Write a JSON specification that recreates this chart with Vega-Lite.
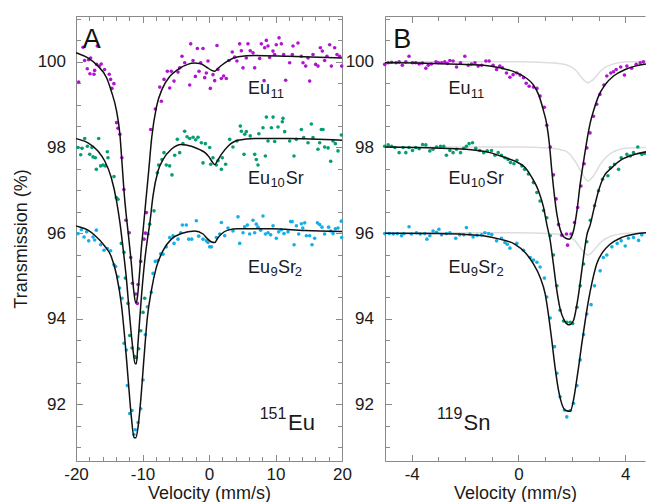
{
  "$schema": "https://vega.github.io/schema/vega-lite/v6.json",
  "padding": {"left": 12, "top": 15, "right": 0, "bottom": 0},
  "background": "white",
  "spacing": 43,
  "bounds": "flush",
  "config": {
    "font": "Liberation Sans",
    "view": {"stroke": null},
    "axis": {"grid": false, "domainColor": "#8a8a8a", "tickColor": "#8a8a8a", "domainWidth": 1, "tickWidth": 1, "labelColor": "#1a1a1a", "titleColor": "#1a1a1a", "labelFontSize": 17, "titleFontSize": 18, "titleFontWeight": "normal", "labelFont": "Liberation Sans", "titleFont": "Liberation Sans"}
  },
  "datasets": {
    "ptsA": [
      {"s":"Eu11","x":-19.6,"y":99.53},{"s":"Eu11","x":-18.94,"y":100.34},{"s":"Eu11","x":-18.7,"y":100.03},{"s":"Eu11","x":-18.3,"y":99.84},{"s":"Eu11","x":-18.1,"y":100.05},{"s":"Eu11","x":-17.9,"y":99.72},{"s":"Eu11","x":-17.8,"y":100.09},{"s":"Eu11","x":-17.3,"y":99.71},{"s":"Eu11","x":-17.2,"y":99.8},{"s":"Eu11","x":-16.8,"y":100.37},{"s":"Eu11","x":-16.9,"y":99.94},{"s":"Eu11","x":-16.5,"y":99.9},{"s":"Eu11","x":-16.2,"y":99.95},{"s":"Eu11","x":-15.7,"y":99.82},{"s":"Eu11","x":-15.0,"y":99.71},{"s":"Eu11","x":-14.8,"y":99.59},{"s":"Eu11","x":-14.6,"y":99.38},{"s":"Eu11","x":-14.3,"y":99.49},{"s":"Eu11","x":-13.9,"y":98.58},{"s":"Eu11","x":-13.7,"y":98.45},{"s":"Eu11","x":-13.4,"y":98.31},{"s":"Eu11","x":-13.1,"y":97.76},{"s":"Eu11","x":-12.8,"y":97.02},{"s":"Eu11","x":-12.5,"y":96.3},{"s":"Eu11","x":-12.0,"y":96.01},{"s":"Eu11","x":-11.77,"y":95.43},{"s":"Eu11","x":-11.52,"y":94.83},{"s":"Eu11","x":-11.02,"y":94.58},{"s":"Eu11","x":-10.77,"y":94.36},{"s":"Eu11","x":-10.67,"y":94.8},{"s":"Eu11","x":-10.27,"y":95.34},{"s":"Eu11","x":-9.77,"y":95.86},{"s":"Eu11","x":-9.56,"y":96.0},{"s":"Eu11","x":-9.41,"y":96.48},{"s":"Eu11","x":-8.77,"y":98.42},{"s":"Eu11","x":-8.07,"y":98.9},{"s":"Eu11","x":-7.4,"y":99.41},{"s":"Eu11","x":-7.16,"y":99.08},{"s":"Eu11","x":-6.76,"y":99.59},{"s":"Eu11","x":-6.26,"y":99.78},{"s":"Eu11","x":-5.91,"y":99.39},{"s":"Eu11","x":-5.66,"y":99.78},{"s":"Eu11","x":-5.26,"y":99.55},{"s":"Eu11","x":-4.66,"y":99.76},{"s":"Eu11","x":-4.4,"y":99.86},{"s":"Eu11","x":-4.06,"y":100.13},{"s":"Eu11","x":-3.65,"y":99.98},{"s":"Eu11","x":-2.9,"y":99.46},{"s":"Eu11","x":-2.75,"y":100.42},{"s":"Eu11","x":-2.4,"y":100.03},{"s":"Eu11","x":-2.05,"y":99.66},{"s":"Eu11","x":-1.75,"y":100.31},{"s":"Eu11","x":-1.5,"y":99.78},{"s":"Eu11","x":-1.25,"y":99.98},{"s":"Eu11","x":-0.9,"y":100.31},{"s":"Eu11","x":-0.65,"y":99.63},{"s":"Eu11","x":-0.4,"y":99.74},{"s":"Eu11","x":-0.15,"y":100.02},{"s":"Eu11","x":0.2,"y":99.38},{"s":"Eu11","x":0.6,"y":99.7},{"s":"Eu11","x":0.85,"y":99.56},{"s":"Eu11","x":1.2,"y":100.38},{"s":"Eu11","x":1.35,"y":99.82},{"s":"Eu11","x":1.85,"y":99.61},{"s":"Eu11","x":2.2,"y":99.67},{"s":"Eu11","x":2.6,"y":99.61},{"s":"Eu11","x":3.0,"y":100.03},{"s":"Eu11","x":3.5,"y":100.23},{"s":"Eu11","x":3.86,"y":100.11},{"s":"Eu11","x":4.2,"y":100.02},{"s":"Eu11","x":4.61,"y":100.42},{"s":"Eu11","x":4.86,"y":100.26},{"s":"Eu11","x":5.11,"y":99.86},{"s":"Eu11","x":5.61,"y":100.09},{"s":"Eu11","x":5.86,"y":100.42},{"s":"Eu11","x":6.2,"y":100.26},{"s":"Eu11","x":6.62,"y":100.21},{"s":"Eu11","x":6.87,"y":99.86},{"s":"Eu11","x":7.62,"y":100.08},{"s":"Eu11","x":7.87,"y":100.42},{"s":"Eu11","x":8.28,"y":99.56},{"s":"Eu11","x":8.37,"y":100.33},{"s":"Eu11","x":8.62,"y":100.5},{"s":"Eu11","x":8.87,"y":100.37},{"s":"Eu11","x":9.12,"y":100.1},{"s":"Eu11","x":9.62,"y":100.25},{"s":"Eu11","x":9.87,"y":100.17},{"s":"Eu11","x":10.12,"y":100.4},{"s":"Eu11","x":10.53,"y":100.56},{"s":"Eu11","x":10.88,"y":100.42},{"s":"Eu11","x":11.23,"y":100.17},{"s":"Eu11","x":11.53,"y":99.57},{"s":"Eu11","x":12.13,"y":99.98},{"s":"Eu11","x":12.53,"y":100.17},{"s":"Eu11","x":12.63,"y":100.37},{"s":"Eu11","x":13.38,"y":100.44},{"s":"Eu11","x":13.88,"y":100.13},{"s":"Eu11","x":14.14,"y":99.98},{"s":"Eu11","x":14.54,"y":99.9},{"s":"Eu11","x":14.89,"y":100.09},{"s":"Eu11","x":15.14,"y":99.55},{"s":"Eu11","x":15.64,"y":100.17},{"s":"Eu11","x":16.04,"y":99.94},{"s":"Eu11","x":16.39,"y":99.9},{"s":"Eu11","x":16.74,"y":100.33},{"s":"Eu11","x":17.04,"y":100.25},{"s":"Eu11","x":17.39,"y":100.03},{"s":"Eu11","x":17.74,"y":100.13},{"s":"Eu11","x":18.15,"y":100.4},{"s":"Eu11","x":18.4,"y":99.9},{"s":"Eu11","x":18.9,"y":100.33},{"s":"Eu11","x":19.25,"y":100.17},{"s":"Eu11","x":19.65,"y":100.13},{"s":"Eu11","x":19.95,"y":99.9},
      {"s":"Eu10Sr","x":-19.69,"y":98.0},{"s":"Eu10Sr","x":-19.29,"y":97.83},{"s":"Eu10Sr","x":-19.09,"y":97.98},{"s":"Eu10Sr","x":-18.69,"y":98.21},{"s":"Eu10Sr","x":-18.29,"y":98.03},{"s":"Eu10Sr","x":-17.94,"y":97.84},{"s":"Eu10Sr","x":-17.6,"y":98.0},{"s":"Eu10Sr","x":-17.44,"y":97.78},{"s":"Eu10Sr","x":-17.09,"y":97.76},{"s":"Eu10Sr","x":-16.94,"y":97.49},{"s":"Eu10Sr","x":-16.59,"y":98.21},{"s":"Eu10Sr","x":-16.29,"y":97.57},{"s":"Eu10Sr","x":-15.94,"y":97.59},{"s":"Eu10Sr","x":-15.59,"y":97.57},{"s":"Eu10Sr","x":-15.29,"y":97.9},{"s":"Eu10Sr","x":-15.19,"y":97.76},{"s":"Eu10Sr","x":-14.29,"y":97.32},{"s":"Eu10Sr","x":-13.94,"y":96.83},{"s":"Eu10Sr","x":-13.69,"y":96.79},{"s":"Eu10Sr","x":-13.18,"y":95.76},{"s":"Eu10Sr","x":-12.78,"y":95.55},{"s":"Eu10Sr","x":-12.58,"y":94.95},{"s":"Eu10Sr","x":-12.18,"y":94.36},{"s":"Eu10Sr","x":-11.92,"y":93.61},{"s":"Eu10Sr","x":-11.57,"y":93.32},{"s":"Eu10Sr","x":-11.17,"y":93.12},{"s":"Eu10Sr","x":-10.92,"y":93.09},{"s":"Eu10Sr","x":-10.57,"y":93.3},{"s":"Eu10Sr","x":-10.27,"y":93.72},{"s":"Eu10Sr","x":-9.92,"y":94.15},{"s":"Eu10Sr","x":-9.67,"y":94.48},{"s":"Eu10Sr","x":-9.17,"y":95.98},{"s":"Eu10Sr","x":-8.92,"y":96.21},{"s":"Eu10Sr","x":-8.27,"y":96.52},{"s":"Eu10Sr","x":-7.77,"y":97.41},{"s":"Eu10Sr","x":-7.57,"y":97.59},{"s":"Eu10Sr","x":-7.07,"y":97.72},{"s":"Eu10Sr","x":-6.77,"y":97.88},{"s":"Eu10Sr","x":-6.42,"y":97.59},{"s":"Eu10Sr","x":-5.92,"y":97.57},{"s":"Eu10Sr","x":-5.57,"y":97.36},{"s":"Eu10Sr","x":-5.16,"y":97.82},{"s":"Eu10Sr","x":-4.76,"y":98.19},{"s":"Eu10Sr","x":-4.41,"y":97.88},{"s":"Eu10Sr","x":-3.91,"y":98.09},{"s":"Eu10Sr","x":-3.66,"y":98.38},{"s":"Eu10Sr","x":-3.3,"y":98.25},{"s":"Eu10Sr","x":-2.9,"y":98.21},{"s":"Eu10Sr","x":-2.4,"y":98.24},{"s":"Eu10Sr","x":-2.0,"y":98.18},{"s":"Eu10Sr","x":-1.65,"y":98.24},{"s":"Eu10Sr","x":-1.15,"y":98.11},{"s":"Eu10Sr","x":-0.9,"y":97.64},{"s":"Eu10Sr","x":-0.55,"y":98.09},{"s":"Eu10Sr","x":0.1,"y":98.0},{"s":"Eu10Sr","x":0.26,"y":97.61},{"s":"Eu10Sr","x":0.6,"y":97.76},{"s":"Eu10Sr","x":1.1,"y":97.59},{"s":"Eu10Sr","x":1.36,"y":97.69},{"s":"Eu10Sr","x":1.86,"y":97.49},{"s":"Eu10Sr","x":2.0,"y":97.76},{"s":"Eu10Sr","x":2.5,"y":97.61},{"s":"Eu10Sr","x":3.11,"y":98.19},{"s":"Eu10Sr","x":3.6,"y":98.01},{"s":"Eu10Sr","x":4.2,"y":98.15},{"s":"Eu10Sr","x":4.71,"y":98.5},{"s":"Eu10Sr","x":4.87,"y":98.38},{"s":"Eu10Sr","x":5.27,"y":97.84},{"s":"Eu10Sr","x":5.37,"y":98.31},{"s":"Eu10Sr","x":5.61,"y":98.37},{"s":"Eu10Sr","x":6.2,"y":98.27},{"s":"Eu10Sr","x":6.87,"y":97.84},{"s":"Eu10Sr","x":7.12,"y":97.72},{"s":"Eu10Sr","x":7.37,"y":97.59},{"s":"Eu10Sr","x":7.5,"y":98.32},{"s":"Eu10Sr","x":8.12,"y":98.46},{"s":"Eu10Sr","x":8.48,"y":97.8},{"s":"Eu10Sr","x":8.63,"y":98.71},{"s":"Eu10Sr","x":8.87,"y":98.15},{"s":"Eu10Sr","x":9.38,"y":98.46},{"s":"Eu10Sr","x":9.63,"y":98.71},{"s":"Eu10Sr","x":9.88,"y":98.14},{"s":"Eu10Sr","x":10.38,"y":98.48},{"s":"Eu10Sr","x":11.03,"y":98.6},{"s":"Eu10Sr","x":11.13,"y":98.68},{"s":"Eu10Sr","x":11.38,"y":98.37},{"s":"Eu10Sr","x":12.13,"y":98.15},{"s":"Eu10Sr","x":12.78,"y":97.8},{"s":"Eu10Sr","x":13.13,"y":98.19},{"s":"Eu10Sr","x":13.89,"y":98.42},{"s":"Eu10Sr","x":14.24,"y":98.23},{"s":"Eu10Sr","x":14.89,"y":98.11},{"s":"Eu10Sr","x":15.39,"y":98.55},{"s":"Eu10Sr","x":15.64,"y":98.23},{"s":"Eu10Sr","x":16.39,"y":97.96},{"s":"Eu10Sr","x":16.64,"y":98.11},{"s":"Eu10Sr","x":16.89,"y":98.42},{"s":"Eu10Sr","x":17.14,"y":98.42},{"s":"Eu10Sr","x":17.39,"y":98.01},{"s":"Eu10Sr","x":17.9,"y":97.99},{"s":"Eu10Sr","x":18.3,"y":97.68},{"s":"Eu10Sr","x":18.65,"y":98.15},{"s":"Eu10Sr","x":19.0,"y":98.09},{"s":"Eu10Sr","x":19.4,"y":97.92},{"s":"Eu10Sr","x":19.9,"y":98.29},
      {"s":"Eu9Sr2","x":-19.69,"y":95.99},{"s":"Eu9Sr2","x":-19.2,"y":96.08},{"s":"Eu9Sr2","x":-18.79,"y":95.91},{"s":"Eu9Sr2","x":-18.4,"y":96.03},{"s":"Eu9Sr2","x":-18.09,"y":95.82},{"s":"Eu9Sr2","x":-17.44,"y":95.91},{"s":"Eu9Sr2","x":-17.19,"y":95.84},{"s":"Eu9Sr2","x":-16.94,"y":96.07},{"s":"Eu9Sr2","x":-16.29,"y":95.73},{"s":"Eu9Sr2","x":-15.79,"y":95.6},{"s":"Eu9Sr2","x":-15.29,"y":95.64},{"s":"Eu9Sr2","x":-14.79,"y":95.59},{"s":"Eu9Sr2","x":-14.29,"y":95.26},{"s":"Eu9Sr2","x":-14.04,"y":95.22},{"s":"Eu9Sr2","x":-13.69,"y":94.98},{"s":"Eu9Sr2","x":-13.44,"y":94.72},{"s":"Eu9Sr2","x":-13.08,"y":94.48},{"s":"Eu9Sr2","x":-12.78,"y":93.43},{"s":"Eu9Sr2","x":-12.43,"y":93.27},{"s":"Eu9Sr2","x":-12.28,"y":92.44},{"s":"Eu9Sr2","x":-11.93,"y":91.79},{"s":"Eu9Sr2","x":-11.58,"y":91.86},{"s":"Eu9Sr2","x":-11.28,"y":91.3},{"s":"Eu9Sr2","x":-11.08,"y":91.41},{"s":"Eu9Sr2","x":-10.67,"y":91.58},{"s":"Eu9Sr2","x":-10.27,"y":91.9},{"s":"Eu9Sr2","x":-9.92,"y":92.57},{"s":"Eu9Sr2","x":-9.57,"y":93.63},{"s":"Eu9Sr2","x":-9.27,"y":94.28},{"s":"Eu9Sr2","x":-8.67,"y":94.62},{"s":"Eu9Sr2","x":-8.42,"y":95.06},{"s":"Eu9Sr2","x":-8.07,"y":95.34},{"s":"Eu9Sr2","x":-7.67,"y":95.36},{"s":"Eu9Sr2","x":-7.27,"y":95.52},{"s":"Eu9Sr2","x":-6.92,"y":95.51},{"s":"Eu9Sr2","x":-6.42,"y":95.68},{"s":"Eu9Sr2","x":-5.91,"y":95.9},{"s":"Eu9Sr2","x":-5.41,"y":95.94},{"s":"Eu9Sr2","x":-5.26,"y":95.76},{"s":"Eu9Sr2","x":-4.66,"y":95.86},{"s":"Eu9Sr2","x":-4.26,"y":96.01},{"s":"Eu9Sr2","x":-4.0,"y":96.19},{"s":"Eu9Sr2","x":-3.41,"y":96.19},{"s":"Eu9Sr2","x":-3.05,"y":95.86},{"s":"Eu9Sr2","x":-2.6,"y":95.86},{"s":"Eu9Sr2","x":-1.9,"y":96.29},{"s":"Eu9Sr2","x":-1.55,"y":95.93},{"s":"Eu9Sr2","x":-0.9,"y":95.86},{"s":"Eu9Sr2","x":-0.4,"y":95.82},{"s":"Eu9Sr2","x":-0.15,"y":95.78},{"s":"Eu9Sr2","x":0.1,"y":95.68},{"s":"Eu9Sr2","x":0.36,"y":95.68},{"s":"Eu9Sr2","x":1.11,"y":95.9},{"s":"Eu9Sr2","x":1.61,"y":95.98},{"s":"Eu9Sr2","x":1.86,"y":96.25},{"s":"Eu9Sr2","x":2.36,"y":95.94},{"s":"Eu9Sr2","x":2.86,"y":96.12},{"s":"Eu9Sr2","x":3.61,"y":96.05},{"s":"Eu9Sr2","x":4.36,"y":96.38},{"s":"Eu9Sr2","x":4.62,"y":95.76},{"s":"Eu9Sr2","x":5.12,"y":96.01},{"s":"Eu9Sr2","x":5.37,"y":96.15},{"s":"Eu9Sr2","x":5.77,"y":96.19},{"s":"Eu9Sr2","x":6.12,"y":95.98},{"s":"Eu9Sr2","x":6.62,"y":96.3},{"s":"Eu9Sr2","x":6.87,"y":96.01},{"s":"Eu9Sr2","x":7.12,"y":96.21},{"s":"Eu9Sr2","x":7.37,"y":96.14},{"s":"Eu9Sr2","x":7.77,"y":96.07},{"s":"Eu9Sr2","x":8.12,"y":96.4},{"s":"Eu9Sr2","x":8.48,"y":95.98},{"s":"Eu9Sr2","x":8.88,"y":96.01},{"s":"Eu9Sr2","x":9.27,"y":95.96},{"s":"Eu9Sr2","x":9.63,"y":96.17},{"s":"Eu9Sr2","x":10.13,"y":95.88},{"s":"Eu9Sr2","x":10.48,"y":96.03},{"s":"Eu9Sr2","x":10.88,"y":96.08},{"s":"Eu9Sr2","x":11.28,"y":95.99},{"s":"Eu9Sr2","x":11.88,"y":96.03},{"s":"Eu9Sr2","x":12.28,"y":96.27},{"s":"Eu9Sr2","x":12.5,"y":96.27},{"s":"Eu9Sr2","x":12.79,"y":95.73},{"s":"Eu9Sr2","x":13.14,"y":96.17},{"s":"Eu9Sr2","x":13.49,"y":95.98},{"s":"Eu9Sr2","x":13.89,"y":96.22},{"s":"Eu9Sr2","x":14.1,"y":96.12},{"s":"Eu9Sr2","x":14.39,"y":96.24},{"s":"Eu9Sr2","x":14.64,"y":95.94},{"s":"Eu9Sr2","x":15.14,"y":95.94},{"s":"Eu9Sr2","x":15.49,"y":95.73},{"s":"Eu9Sr2","x":15.89,"y":95.88},{"s":"Eu9Sr2","x":16.3,"y":96.24},{"s":"Eu9Sr2","x":16.64,"y":96.2},{"s":"Eu9Sr2","x":16.99,"y":96.14},{"s":"Eu9Sr2","x":17.39,"y":95.98},{"s":"Eu9Sr2","x":17.99,"y":96.14},{"s":"Eu9Sr2","x":18.3,"y":96.05},{"s":"Eu9Sr2","x":18.65,"y":95.99},{"s":"Eu9Sr2","x":19.0,"y":96.1},{"s":"Eu9Sr2","x":19.4,"y":96.12},{"s":"Eu9Sr2","x":19.9,"y":96.28},{"s":"Eu9Sr2","x":19.95,"y":95.9}
    ],
    "fitA": [
      {"s":"Eu11","x":-20,"y":100.21},{"s":"Eu11","x":-19.6,"y":100.19},{"s":"Eu11","x":-18.2,"y":100.09},{"s":"Eu11","x":-16.7,"y":99.9},{"s":"Eu11","x":-15.4,"y":99.63},{"s":"Eu11","x":-14.7,"y":99.32},{"s":"Eu11","x":-13.9,"y":98.85},{"s":"Eu11","x":-13.4,"y":98.31},{"s":"Eu11","x":-13.1,"y":97.68},{"s":"Eu11","x":-12.7,"y":96.83},{"s":"Eu11","x":-12.4,"y":96.35},{"s":"Eu11","x":-12.15,"y":96.0},{"s":"Eu11","x":-11.67,"y":95.28},{"s":"Eu11","x":-11.32,"y":94.66},{"s":"Eu11","x":-11.02,"y":94.37},{"s":"Eu11","x":-10.77,"y":94.5},{"s":"Eu11","x":-10.42,"y":95.12},{"s":"Eu11","x":-10.17,"y":95.66},{"s":"Eu11","x":-9.92,"y":96.05},{"s":"Eu11","x":-9.5,"y":96.75},{"s":"Eu11","x":-9.1,"y":97.4},{"s":"Eu11","x":-8.6,"y":98.25},{"s":"Eu11","x":-7.9,"y":98.95},{"s":"Eu11","x":-7.0,"y":99.38},{"s":"Eu11","x":-5.9,"y":99.66},{"s":"Eu11","x":-4.7,"y":99.82},{"s":"Eu11","x":-3.2,"y":99.94},{"s":"Eu11","x":-2.2,"y":99.97},{"s":"Eu11","x":-1.4,"y":99.96},{"s":"Eu11","x":-0.9,"y":99.93},{"s":"Eu11","x":-0.2,"y":99.86},{"s":"Eu11","x":0.4,"y":99.8},{"s":"Eu11","x":0.86,"y":99.78},{"s":"Eu11","x":1.3,"y":99.84},{"s":"Eu11","x":1.9,"y":99.92},{"s":"Eu11","x":2.9,"y":100.03},{"s":"Eu11","x":4.4,"y":100.12},{"s":"Eu11","x":6.9,"y":100.15},{"s":"Eu11","x":11.9,"y":100.13},{"s":"Eu11","x":20,"y":100.09},
      {"s":"Eu10Sr","x":-20,"y":98.21},{"s":"Eu10Sr","x":-19.6,"y":98.19},{"s":"Eu10Sr","x":-18.2,"y":98.11},{"s":"Eu10Sr","x":-16.7,"y":97.92},{"s":"Eu10Sr","x":-15.7,"y":97.69},{"s":"Eu10Sr","x":-14.7,"y":97.3},{"s":"Eu10Sr","x":-13.9,"y":96.75},{"s":"Eu10Sr","x":-13.4,"y":96.25},{"s":"Eu10Sr","x":-12.93,"y":95.65},{"s":"Eu10Sr","x":-12.43,"y":94.95},{"s":"Eu10Sr","x":-11.93,"y":94.05},{"s":"Eu10Sr","x":-11.45,"y":93.3},{"s":"Eu10Sr","x":-11.1,"y":92.95},{"s":"Eu10Sr","x":-10.92,"y":92.95},{"s":"Eu10Sr","x":-10.67,"y":93.45},{"s":"Eu10Sr","x":-10.17,"y":94.5},{"s":"Eu10Sr","x":-9.67,"y":95.35},{"s":"Eu10Sr","x":-9.27,"y":95.85},{"s":"Eu10Sr","x":-8.92,"y":96.21},{"s":"Eu10Sr","x":-8.42,"y":96.87},{"s":"Eu10Sr","x":-7.67,"y":97.45},{"s":"Eu10Sr","x":-6.91,"y":97.72},{"s":"Eu10Sr","x":-5.66,"y":97.96},{"s":"Eu10Sr","x":-4.16,"y":98.07},{"s":"Eu10Sr","x":-2.65,"y":98.03},{"s":"Eu10Sr","x":-1.4,"y":97.95},{"s":"Eu10Sr","x":-0.6,"y":97.88},{"s":"Eu10Sr","x":0.0,"y":97.78},{"s":"Eu10Sr","x":0.5,"y":97.66},{"s":"Eu10Sr","x":0.86,"y":97.6},{"s":"Eu10Sr","x":1.3,"y":97.7},{"s":"Eu10Sr","x":1.86,"y":97.84},{"s":"Eu10Sr","x":2.86,"y":98.03},{"s":"Eu10Sr","x":4.36,"y":98.17},{"s":"Eu10Sr","x":6.87,"y":98.21},{"s":"Eu10Sr","x":11.88,"y":98.21},{"s":"Eu10Sr","x":20,"y":98.17},
      {"s":"Eu9Sr2","x":-20,"y":96.17},{"s":"Eu9Sr2","x":-19.6,"y":96.15},{"s":"Eu9Sr2","x":-18.2,"y":96.07},{"s":"Eu9Sr2","x":-17.19,"y":95.95},{"s":"Eu9Sr2","x":-15.69,"y":95.7},{"s":"Eu9Sr2","x":-14.69,"y":95.45},{"s":"Eu9Sr2","x":-13.93,"y":95.04},{"s":"Eu9Sr2","x":-13.18,"y":94.34},{"s":"Eu9Sr2","x":-12.68,"y":93.57},{"s":"Eu9Sr2","x":-12.18,"y":92.63},{"s":"Eu9Sr2","x":-11.67,"y":91.7},{"s":"Eu9Sr2","x":-11.27,"y":91.22},{"s":"Eu9Sr2","x":-11.02,"y":91.22},{"s":"Eu9Sr2","x":-10.67,"y":91.47},{"s":"Eu9Sr2","x":-10.27,"y":92.09},{"s":"Eu9Sr2","x":-9.77,"y":93.1},{"s":"Eu9Sr2","x":-9.27,"y":94.03},{"s":"Eu9Sr2","x":-8.67,"y":94.66},{"s":"Eu9Sr2","x":-7.92,"y":95.2},{"s":"Eu9Sr2","x":-6.92,"y":95.59},{"s":"Eu9Sr2","x":-5.66,"y":95.86},{"s":"Eu9Sr2","x":-4.16,"y":95.99},{"s":"Eu9Sr2","x":-2.15,"y":96.05},{"s":"Eu9Sr2","x":-0.9,"y":95.98},{"s":"Eu9Sr2","x":-0.3,"y":95.88},{"s":"Eu9Sr2","x":0.3,"y":95.8},{"s":"Eu9Sr2","x":0.86,"y":95.78},{"s":"Eu9Sr2","x":1.3,"y":95.88},{"s":"Eu9Sr2","x":1.86,"y":95.98},{"s":"Eu9Sr2","x":2.86,"y":96.07},{"s":"Eu9Sr2","x":4.36,"y":96.1},{"s":"Eu9Sr2","x":9.38,"y":96.1},{"s":"Eu9Sr2","x":14.4,"y":96.06},{"s":"Eu9Sr2","x":20,"y":96.04}
    ],
    "ptsB": [
      {"s":"Eu11","x":-5.01,"y":99.94},{"s":"Eu11","x":-4.88,"y":99.98},{"s":"Eu11","x":-4.75,"y":99.99},{"s":"Eu11","x":-4.59,"y":99.98},{"s":"Eu11","x":-4.47,"y":100.0},{"s":"Eu11","x":-4.35,"y":99.92},{"s":"Eu11","x":-4.22,"y":100.0},{"s":"Eu11","x":-4.1,"y":100.13},{"s":"Eu11","x":-3.97,"y":99.98},{"s":"Eu11","x":-3.85,"y":99.98},{"s":"Eu11","x":-3.72,"y":99.95},{"s":"Eu11","x":-3.6,"y":99.97},{"s":"Eu11","x":-3.47,"y":99.85},{"s":"Eu11","x":-3.38,"y":99.92},{"s":"Eu11","x":-3.26,"y":99.95},{"s":"Eu11","x":-3.09,"y":100.0},{"s":"Eu11","x":-3.0,"y":99.98},{"s":"Eu11","x":-2.88,"y":99.98},{"s":"Eu11","x":-2.76,"y":100.0},{"s":"Eu11","x":-2.66,"y":99.96},{"s":"Eu11","x":-2.57,"y":100.03},{"s":"Eu11","x":-2.45,"y":100.02},{"s":"Eu11","x":-2.32,"y":99.88},{"s":"Eu11","x":-2.17,"y":99.98},{"s":"Eu11","x":-2.01,"y":100.13},{"s":"Eu11","x":-1.88,"y":99.92},{"s":"Eu11","x":-1.76,"y":99.95},{"s":"Eu11","x":-1.63,"y":99.98},{"s":"Eu11","x":-1.51,"y":99.9},{"s":"Eu11","x":-1.38,"y":99.92},{"s":"Eu11","x":-1.22,"y":100.02},{"s":"Eu11","x":-1.1,"y":100.02},{"s":"Eu11","x":-0.95,"y":99.92},{"s":"Eu11","x":-0.82,"y":99.82},{"s":"Eu11","x":-0.7,"y":99.9},{"s":"Eu11","x":-0.6,"y":99.86},{"s":"Eu11","x":-0.45,"y":99.74},{"s":"Eu11","x":-0.32,"y":99.64},{"s":"Eu11","x":-0.2,"y":99.7},{"s":"Eu11","x":-0.06,"y":99.74},{"s":"Eu11","x":0.06,"y":99.69},{"s":"Eu11","x":0.19,"y":99.63},{"s":"Eu11","x":0.29,"y":99.5},{"s":"Eu11","x":0.4,"y":99.43},{"s":"Eu11","x":0.56,"y":99.41},{"s":"Eu11","x":0.69,"y":99.38},{"s":"Eu11","x":0.81,"y":99.2},{"s":"Eu11","x":0.97,"y":98.94},{"s":"Eu11","x":1.06,"y":98.52},{"s":"Eu11","x":1.19,"y":98.01},{"s":"Eu11","x":1.31,"y":97.36},{"s":"Eu11","x":1.41,"y":96.8},{"s":"Eu11","x":1.5,"y":96.2},{"s":"Eu11","x":1.62,"y":95.95},{"s":"Eu11","x":1.8,"y":95.98},{"s":"Eu11","x":1.84,"y":95.72},{"s":"Eu11","x":1.97,"y":95.98},{"s":"Eu11","x":2.1,"y":96.25},{"s":"Eu11","x":2.22,"y":96.6},{"s":"Eu11","x":2.34,"y":97.1},{"s":"Eu11","x":2.46,"y":97.62},{"s":"Eu11","x":2.56,"y":97.99},{"s":"Eu11","x":2.68,"y":98.34},{"s":"Eu11","x":2.81,"y":98.73},{"s":"Eu11","x":2.93,"y":99.01},{"s":"Eu11","x":3.05,"y":99.24},{"s":"Eu11","x":3.2,"y":99.46},{"s":"Eu11","x":3.31,"y":99.67},{"s":"Eu11","x":3.46,"y":99.74},{"s":"Eu11","x":3.56,"y":99.77},{"s":"Eu11","x":3.66,"y":99.82},{"s":"Eu11","x":3.83,"y":99.88},{"s":"Eu11","x":3.97,"y":99.69},{"s":"Eu11","x":4.06,"y":99.9},{"s":"Eu11","x":4.24,"y":99.85},{"s":"Eu11","x":4.41,"y":99.94},{"s":"Eu11","x":4.56,"y":99.98},{"s":"Eu11","x":4.68,"y":100.0},
      {"s":"Eu10Sr","x":-5.01,"y":98.03},{"s":"Eu10Sr","x":-4.88,"y":98.06},{"s":"Eu10Sr","x":-4.75,"y":98.03},{"s":"Eu10Sr","x":-4.63,"y":98.0},{"s":"Eu10Sr","x":-4.47,"y":97.88},{"s":"Eu10Sr","x":-4.32,"y":98.0},{"s":"Eu10Sr","x":-4.22,"y":97.88},{"s":"Eu10Sr","x":-4.1,"y":98.0},{"s":"Eu10Sr","x":-3.97,"y":97.93},{"s":"Eu10Sr","x":-3.85,"y":98.0},{"s":"Eu10Sr","x":-3.72,"y":97.97},{"s":"Eu10Sr","x":-3.59,"y":98.07},{"s":"Eu10Sr","x":-3.47,"y":98.06},{"s":"Eu10Sr","x":-3.32,"y":97.92},{"s":"Eu10Sr","x":-3.2,"y":97.96},{"s":"Eu10Sr","x":-3.07,"y":98.01},{"s":"Eu10Sr","x":-2.92,"y":98.03},{"s":"Eu10Sr","x":-2.8,"y":98.03},{"s":"Eu10Sr","x":-2.7,"y":97.82},{"s":"Eu10Sr","x":-2.57,"y":97.93},{"s":"Eu10Sr","x":-2.45,"y":97.88},{"s":"Eu10Sr","x":-2.32,"y":97.96},{"s":"Eu10Sr","x":-2.17,"y":97.88},{"s":"Eu10Sr","x":-2.05,"y":97.98},{"s":"Eu10Sr","x":-1.95,"y":98.03},{"s":"Eu10Sr","x":-1.85,"y":98.09},{"s":"Eu10Sr","x":-1.72,"y":98.11},{"s":"Eu10Sr","x":-1.6,"y":97.98},{"s":"Eu10Sr","x":-1.45,"y":97.93},{"s":"Eu10Sr","x":-1.3,"y":97.88},{"s":"Eu10Sr","x":-1.17,"y":97.92},{"s":"Eu10Sr","x":-1.01,"y":97.93},{"s":"Eu10Sr","x":-0.88,"y":97.82},{"s":"Eu10Sr","x":-0.76,"y":97.88},{"s":"Eu10Sr","x":-0.64,"y":97.82},{"s":"Eu10Sr","x":-0.51,"y":97.76},{"s":"Eu10Sr","x":-0.39,"y":97.72},{"s":"Eu10Sr","x":-0.3,"y":97.65},{"s":"Eu10Sr","x":-0.17,"y":97.62},{"s":"Eu10Sr","x":-0.06,"y":97.7},{"s":"Eu10Sr","x":0.13,"y":97.57},{"s":"Eu10Sr","x":0.23,"y":97.49},{"s":"Eu10Sr","x":0.37,"y":97.38},{"s":"Eu10Sr","x":0.56,"y":97.18},{"s":"Eu10Sr","x":0.69,"y":96.95},{"s":"Eu10Sr","x":0.81,"y":96.75},{"s":"Eu10Sr","x":0.94,"y":96.53},{"s":"Eu10Sr","x":1.06,"y":96.36},{"s":"Eu10Sr","x":1.19,"y":95.94},{"s":"Eu10Sr","x":1.31,"y":95.49},{"s":"Eu10Sr","x":1.44,"y":94.77},{"s":"Eu10Sr","x":1.56,"y":94.2},{"s":"Eu10Sr","x":1.69,"y":93.95},{"s":"Eu10Sr","x":1.81,"y":93.92},{"s":"Eu10Sr","x":1.94,"y":93.92},{"s":"Eu10Sr","x":2.03,"y":93.89},{"s":"Eu10Sr","x":2.19,"y":94.27},{"s":"Eu10Sr","x":2.31,"y":94.77},{"s":"Eu10Sr","x":2.44,"y":95.28},{"s":"Eu10Sr","x":2.56,"y":95.8},{"s":"Eu10Sr","x":2.69,"y":96.3},{"s":"Eu10Sr","x":2.85,"y":96.64},{"s":"Eu10Sr","x":3.0,"y":96.99},{"s":"Eu10Sr","x":3.15,"y":97.26},{"s":"Eu10Sr","x":3.35,"y":97.34},{"s":"Eu10Sr","x":3.44,"y":97.53},{"s":"Eu10Sr","x":3.6,"y":97.61},{"s":"Eu10Sr","x":3.75,"y":97.49},{"s":"Eu10Sr","x":3.85,"y":97.76},{"s":"Eu10Sr","x":4.06,"y":97.84},{"s":"Eu10Sr","x":4.19,"y":97.8},{"s":"Eu10Sr","x":4.31,"y":97.88},{"s":"Eu10Sr","x":4.47,"y":98.01},{"s":"Eu10Sr","x":4.62,"y":97.84},{"s":"Eu10Sr","x":4.72,"y":97.86},
      {"s":"Eu9Sr2","x":-5.01,"y":95.99},{"s":"Eu9Sr2","x":-4.84,"y":95.99},{"s":"Eu9Sr2","x":-4.69,"y":95.98},{"s":"Eu9Sr2","x":-4.54,"y":95.99},{"s":"Eu9Sr2","x":-4.38,"y":95.94},{"s":"Eu9Sr2","x":-4.29,"y":95.99},{"s":"Eu9Sr2","x":-4.1,"y":96.15},{"s":"Eu9Sr2","x":-4.01,"y":95.98},{"s":"Eu9Sr2","x":-3.82,"y":96.01},{"s":"Eu9Sr2","x":-3.68,"y":95.98},{"s":"Eu9Sr2","x":-3.51,"y":95.99},{"s":"Eu9Sr2","x":-3.43,"y":95.86},{"s":"Eu9Sr2","x":-3.32,"y":95.94},{"s":"Eu9Sr2","x":-3.2,"y":96.05},{"s":"Eu9Sr2","x":-3.07,"y":96.02},{"s":"Eu9Sr2","x":-2.98,"y":96.09},{"s":"Eu9Sr2","x":-2.88,"y":95.96},{"s":"Eu9Sr2","x":-2.7,"y":95.99},{"s":"Eu9Sr2","x":-2.57,"y":96.01},{"s":"Eu9Sr2","x":-2.35,"y":95.88},{"s":"Eu9Sr2","x":-2.2,"y":95.96},{"s":"Eu9Sr2","x":-2.05,"y":95.96},{"s":"Eu9Sr2","x":-1.95,"y":96.13},{"s":"Eu9Sr2","x":-1.82,"y":95.98},{"s":"Eu9Sr2","x":-1.7,"y":95.91},{"s":"Eu9Sr2","x":-1.55,"y":95.95},{"s":"Eu9Sr2","x":-1.38,"y":95.96},{"s":"Eu9Sr2","x":-1.26,"y":96.01},{"s":"Eu9Sr2","x":-1.12,"y":95.99},{"s":"Eu9Sr2","x":-1.0,"y":95.97},{"s":"Eu9Sr2","x":-0.82,"y":95.82},{"s":"Eu9Sr2","x":-0.64,"y":95.88},{"s":"Eu9Sr2","x":-0.51,"y":95.78},{"s":"Eu9Sr2","x":-0.42,"y":95.74},{"s":"Eu9Sr2","x":-0.32,"y":95.65},{"s":"Eu9Sr2","x":-0.06,"y":95.76},{"s":"Eu9Sr2","x":0.19,"y":95.6},{"s":"Eu9Sr2","x":0.44,"y":95.43},{"s":"Eu9Sr2","x":0.56,"y":95.37},{"s":"Eu9Sr2","x":0.69,"y":95.32},{"s":"Eu9Sr2","x":0.81,"y":95.21},{"s":"Eu9Sr2","x":0.97,"y":94.95},{"s":"Eu9Sr2","x":1.06,"y":94.51},{"s":"Eu9Sr2","x":1.19,"y":94.02},{"s":"Eu9Sr2","x":1.35,"y":93.35},{"s":"Eu9Sr2","x":1.44,"y":92.73},{"s":"Eu9Sr2","x":1.56,"y":92.18},{"s":"Eu9Sr2","x":1.72,"y":91.87},{"s":"Eu9Sr2","x":1.81,"y":91.71},{"s":"Eu9Sr2","x":1.94,"y":91.86},{"s":"Eu9Sr2","x":2.06,"y":92.03},{"s":"Eu9Sr2","x":2.19,"y":92.44},{"s":"Eu9Sr2","x":2.31,"y":93.04},{"s":"Eu9Sr2","x":2.44,"y":93.63},{"s":"Eu9Sr2","x":2.56,"y":94.11},{"s":"Eu9Sr2","x":2.72,"y":94.33},{"s":"Eu9Sr2","x":2.85,"y":94.77},{"s":"Eu9Sr2","x":3.06,"y":95.12},{"s":"Eu9Sr2","x":3.18,"y":95.43},{"s":"Eu9Sr2","x":3.31,"y":95.49},{"s":"Eu9Sr2","x":3.5,"y":95.68},{"s":"Eu9Sr2","x":3.7,"y":95.76},{"s":"Eu9Sr2","x":3.85,"y":95.82},{"s":"Eu9Sr2","x":4.0,"y":95.7},{"s":"Eu9Sr2","x":4.12,"y":95.88},{"s":"Eu9Sr2","x":4.31,"y":95.9},{"s":"Eu9Sr2","x":4.5,"y":95.83},{"s":"Eu9Sr2","x":4.62,"y":95.96}
    ],
    "fitB": [
      {"s":"Eu11","x":-5,"y":99.98},{"s":"Eu11","x":-3.8,"y":99.97},{"s":"Eu11","x":-2.6,"y":99.95},{"s":"Eu11","x":-1.3,"y":99.92},{"s":"Eu11","x":-0.7,"y":99.86},{"s":"Eu11","x":-0.13,"y":99.76},{"s":"Eu11","x":0.25,"y":99.64},{"s":"Eu11","x":0.56,"y":99.46},{"s":"Eu11","x":0.75,"y":99.24},{"s":"Eu11","x":0.94,"y":98.85},{"s":"Eu11","x":1.06,"y":98.54},{"s":"Eu11","x":1.16,"y":98.07},{"s":"Eu11","x":1.25,"y":97.45},{"s":"Eu11","x":1.34,"y":96.91},{"s":"Eu11","x":1.44,"y":96.44},{"s":"Eu11","x":1.56,"y":96.09},{"s":"Eu11","x":1.72,"y":95.9},{"s":"Eu11","x":1.9,"y":95.86},{"s":"Eu11","x":2.06,"y":96.05},{"s":"Eu11","x":2.19,"y":96.52},{"s":"Eu11","x":2.31,"y":97.14},{"s":"Eu11","x":2.44,"y":97.68},{"s":"Eu11","x":2.56,"y":98.15},{"s":"Eu11","x":2.69,"y":98.58},{"s":"Eu11","x":2.81,"y":98.85},{"s":"Eu11","x":3.0,"y":99.2},{"s":"Eu11","x":3.25,"y":99.47},{"s":"Eu11","x":3.56,"y":99.67},{"s":"Eu11","x":4.0,"y":99.82},{"s":"Eu11","x":4.37,"y":99.9},{"s":"Eu11","x":4.8,"y":99.95},
      {"s":"Eu10Sr","x":-5,"y":98.01},{"s":"Eu10Sr","x":-3.2,"y":97.99},{"s":"Eu10Sr","x":-1.95,"y":97.96},{"s":"Eu10Sr","x":-1.07,"y":97.88},{"s":"Eu10Sr","x":-0.57,"y":97.78},{"s":"Eu10Sr","x":-0.13,"y":97.68},{"s":"Eu10Sr","x":0.25,"y":97.53},{"s":"Eu10Sr","x":0.5,"y":97.3},{"s":"Eu10Sr","x":0.75,"y":96.99},{"s":"Eu10Sr","x":0.94,"y":96.6},{"s":"Eu10Sr","x":1.06,"y":96.21},{"s":"Eu10Sr","x":1.19,"y":95.82},{"s":"Eu10Sr","x":1.31,"y":95.27},{"s":"Eu10Sr","x":1.44,"y":94.65},{"s":"Eu10Sr","x":1.56,"y":94.23},{"s":"Eu10Sr","x":1.72,"y":93.96},{"s":"Eu10Sr","x":1.9,"y":93.86},{"s":"Eu10Sr","x":2.06,"y":93.96},{"s":"Eu10Sr","x":2.16,"y":94.23},{"s":"Eu10Sr","x":2.27,"y":94.65},{"s":"Eu10Sr","x":2.37,"y":95.12},{"s":"Eu10Sr","x":2.47,"y":95.59},{"s":"Eu10Sr","x":2.56,"y":95.95},{"s":"Eu10Sr","x":2.69,"y":96.2},{"s":"Eu10Sr","x":2.81,"y":96.52},{"s":"Eu10Sr","x":3.0,"y":96.99},{"s":"Eu10Sr","x":3.18,"y":97.3},{"s":"Eu10Sr","x":3.5,"y":97.53},{"s":"Eu10Sr","x":3.87,"y":97.72},{"s":"Eu10Sr","x":4.37,"y":97.84},{"s":"Eu10Sr","x":4.8,"y":97.9},
      {"s":"Eu9Sr2","x":-5,"y":96.0},{"s":"Eu9Sr2","x":-3,"y":95.99},{"s":"Eu9Sr2","x":-2,"y":95.97},{"s":"Eu9Sr2","x":-1.32,"y":95.94},{"s":"Eu9Sr2","x":-0.7,"y":95.86},{"s":"Eu9Sr2","x":-0.13,"y":95.74},{"s":"Eu9Sr2","x":0.25,"y":95.55},{"s":"Eu9Sr2","x":0.56,"y":95.28},{"s":"Eu9Sr2","x":0.81,"y":94.97},{"s":"Eu9Sr2","x":1.0,"y":94.58},{"s":"Eu9Sr2","x":1.12,"y":94.11},{"s":"Eu9Sr2","x":1.25,"y":93.49},{"s":"Eu9Sr2","x":1.37,"y":92.87},{"s":"Eu9Sr2","x":1.5,"y":92.33},{"s":"Eu9Sr2","x":1.62,"y":92.02},{"s":"Eu9Sr2","x":1.77,"y":91.86},{"s":"Eu9Sr2","x":1.94,"y":91.84},{"s":"Eu9Sr2","x":2.06,"y":92.1},{"s":"Eu9Sr2","x":2.16,"y":92.48},{"s":"Eu9Sr2","x":2.27,"y":92.95},{"s":"Eu9Sr2","x":2.37,"y":93.41},{"s":"Eu9Sr2","x":2.5,"y":93.96},{"s":"Eu9Sr2","x":2.62,"y":94.42},{"s":"Eu9Sr2","x":2.77,"y":94.89},{"s":"Eu9Sr2","x":2.93,"y":95.28},{"s":"Eu9Sr2","x":3.15,"y":95.55},{"s":"Eu9Sr2","x":3.43,"y":95.74},{"s":"Eu9Sr2","x":3.87,"y":95.9},{"s":"Eu9Sr2","x":4.37,"y":95.98},{"s":"Eu9Sr2","x":4.8,"y":96.01}
    ],
    "compB": [
      {"s":"Eu11","x":-5,"y":100.0},{"s":"Eu11","x":0,"y":100.0},{"s":"Eu11","x":1.12,"y":99.98},{"s":"Eu11","x":1.75,"y":99.94},{"s":"Eu11","x":2.12,"y":99.82},{"s":"Eu11","x":2.37,"y":99.63},{"s":"Eu11","x":2.6,"y":99.51},{"s":"Eu11","x":2.81,"y":99.59},{"s":"Eu11","x":3.07,"y":99.78},{"s":"Eu11","x":3.5,"y":99.94},{"s":"Eu11","x":4.12,"y":100.0},{"s":"Eu11","x":4.8,"y":100.01},
      {"s":"Eu10Sr","x":-5,"y":98.01},{"s":"Eu10Sr","x":0,"y":98.01},{"s":"Eu10Sr","x":1.12,"y":97.99},{"s":"Eu10Sr","x":1.75,"y":97.92},{"s":"Eu10Sr","x":2.12,"y":97.68},{"s":"Eu10Sr","x":2.37,"y":97.41},{"s":"Eu10Sr","x":2.6,"y":97.22},{"s":"Eu10Sr","x":2.81,"y":97.34},{"s":"Eu10Sr","x":3.07,"y":97.61},{"s":"Eu10Sr","x":3.5,"y":97.88},{"s":"Eu10Sr","x":4.12,"y":97.99},{"s":"Eu10Sr","x":4.8,"y":98.0},
      {"s":"Eu9Sr2","x":-5,"y":96.01},{"s":"Eu9Sr2","x":0,"y":96.01},{"s":"Eu9Sr2","x":1.12,"y":95.99},{"s":"Eu9Sr2","x":1.75,"y":95.96},{"s":"Eu9Sr2","x":2.12,"y":95.82},{"s":"Eu9Sr2","x":2.37,"y":95.62},{"s":"Eu9Sr2","x":2.6,"y":95.49},{"s":"Eu9Sr2","x":2.81,"y":95.59},{"s":"Eu9Sr2","x":3.07,"y":95.78},{"s":"Eu9Sr2","x":3.5,"y":95.94},{"s":"Eu9Sr2","x":4.12,"y":96.0},{"s":"Eu9Sr2","x":4.8,"y":96.01}
    ],
    "mainA": [{"x":5.86,"y":99.247,"t":"Eu"},{"x":5.86,"y":97.156,"t":"Eu"},{"x":11.53,"y":97.156,"t":"Sr"},{"x":5.86,"y":95.068,"t":"Eu"},{"x":10.38,"y":95.068,"t":"Sr"}],
    "subA": [{"x":9.23,"y":99.161,"t":"11"},{"x":9.23,"y":97.079,"t":"10"},{"x":9.23,"y":94.988,"t":"9"},{"x":12.89,"y":94.988,"t":"2"}],
    "supA": [{"x":7.62,"y":91.66,"t":"151"}],
    "isoA": [{"x":11.88,"y":91.408,"t":"Eu"}],
    "letA": [{"x":-18.99,"y":100.32,"t":"A"}],
    "mainB": [{"x":-2.622,"y":99.247,"t":"Eu"},{"x":-2.622,"y":97.156,"t":"Eu"},{"x":-1.22,"y":97.156,"t":"Sr"},{"x":-2.622,"y":95.068,"t":"Eu"},{"x":-1.505,"y":95.068,"t":"Sr"}],
    "subB": [{"x":-1.79,"y":99.161,"t":"11"},{"x":-1.79,"y":97.079,"t":"10"},{"x":-1.79,"y":94.988,"t":"9"},{"x":-0.82,"y":94.988,"t":"2"}],
    "supB": [{"x":-3.056,"y":91.66,"t":"119"}],
    "isoB": [{"x":-2.06,"y":91.408,"t":"Sn"}],
    "letB": [{"x":-4.693,"y":100.32,"t":"B"}]
  },
  "hconcat": [
    {
      "width": 266,
      "height": 445,
      "resolve": {"axis": {"x": "independent", "y": "independent"}},
      "layer": [
        {
          "data": {"name": "ptsA"},
          "mark": {"type": "circle", "size": 13, "opacity": 1},
          "encoding": {
            "x": {"field": "x", "type": "quantitative", "scale": {"domain": [-20, 20], "nice": false, "zero": false},
                  "axis": {"orient": "bottom", "values": [-20, -10, 0, 10, 20], "tickSize": -6.5, "labelPadding": 12, "labelExpr": "'' + datum.value", "labelFlush": false, "title": "Velocity (mm/s)", "titlePadding": 1.5}},
            "y": {"field": "y", "type": "quantitative", "scale": {"domain": [90.68, 101.07], "nice": false, "zero": false},
                  "axis": {"orient": "left", "values": [92, 94, 96, 98, 100], "tickSize": -6.5, "labelPadding": 17, "title": "Transmission (%)", "titlePadding": 7}},
            "color": {"field": "s", "type": "nominal", "scale": {"domain": ["Eu11", "Eu10Sr", "Eu9Sr2"], "range": ["#b014d2", "#049e73", "#14aee8"]}, "legend": null}
          }
        },
        {
          "data": {"name": "fitA"},
          "mark": {"type": "line", "color": "#111111", "strokeWidth": 1.5, "interpolate": "monotone"},
          "encoding": {
            "x": {"field": "x", "type": "quantitative", "scale": {"domain": [-20, 20], "nice": false, "zero": false},
                  "axis": {"orient": "bottom", "values": [-20, -18, -16, -14, -12, -10, -8, -6, -4, -2, 0, 2, 4, 6, 8, 10, 12, 14, 16, 18, 20], "tickSize": -4.5, "labels": false, "domain": false, "title": null}},
            "y": {"field": "y", "type": "quantitative", "scale": {"domain": [90.68, 101.07], "nice": false, "zero": false},
                  "axis": {"orient": "left", "values": [91, 91.5, 92, 92.5, 93, 93.5, 94, 94.5, 95, 95.5, 96, 96.5, 97, 97.5, 98, 98.5, 99, 99.5, 100, 100.5, 101], "tickSize": -4.5, "labels": false, "domain": false, "title": null}},
            "detail": {"field": "s", "type": "nominal"}
          }
        },
        {
          "data": {"name": "mainA"},
          "mark": {"type": "text", "fontSize": 18, "align": "left", "baseline": "alphabetic", "color": "#1a1a1a"},
          "encoding": {
            "x": {"field": "x", "type": "quantitative", "scale": {"domain": [-20, 20], "nice": false, "zero": false},
                  "axis": {"orient": "top", "values": [-20, -18, -16, -14, -12, -10, -8, -6, -4, -2, 0, 2, 4, 6, 8, 10, 12, 14, 16, 18, 20], "tickSize": -4.5, "labels": false, "title": null}},
            "y": {"field": "y", "type": "quantitative", "scale": {"domain": [90.68, 101.07], "nice": false, "zero": false},
                  "axis": {"orient": "right", "values": [91, 91.5, 92, 92.5, 93, 93.5, 94, 94.5, 95, 95.5, 96, 96.5, 97, 97.5, 98, 98.5, 99, 99.5, 100, 100.5, 101], "tickSize": -4.5, "labels": false, "title": null}},
            "text": {"field": "t"}
          }
        },
        {
          "data": {"name": "subA"},
          "mark": {"type": "text", "fontSize": 13, "align": "left", "baseline": "alphabetic", "color": "#1a1a1a"},
          "encoding": {
            "x": {"field": "x", "type": "quantitative", "scale": {"domain": [-20, 20], "nice": false, "zero": false},
                  "axis": {"orient": "top", "values": [-20, -10, 0, 10, 20], "tickSize": -6.5, "labels": false, "domain": false, "title": null}},
            "y": {"field": "y", "type": "quantitative", "scale": {"domain": [90.68, 101.07], "nice": false, "zero": false},
                  "axis": {"orient": "right", "values": [92, 94, 96, 98, 100], "tickSize": -6.5, "labels": false, "domain": false, "title": null}},
            "text": {"field": "t"}
          }
        },
        {
          "data": {"name": "supA"},
          "mark": {"type": "text", "fontSize": 16, "align": "left", "baseline": "alphabetic", "color": "#1a1a1a"},
          "encoding": {
            "x": {"field": "x", "type": "quantitative", "scale": {"domain": [-20, 20], "nice": false, "zero": false}, "axis": null},
            "y": {"field": "y", "type": "quantitative", "scale": {"domain": [90.68, 101.07], "nice": false, "zero": false}, "axis": null},
            "text": {"field": "t"}
          }
        },
        {
          "data": {"name": "isoA"},
          "mark": {"type": "text", "fontSize": 22, "align": "left", "baseline": "alphabetic", "color": "#1a1a1a"},
          "encoding": {
            "x": {"field": "x", "type": "quantitative", "scale": {"domain": [-20, 20], "nice": false, "zero": false}, "axis": null},
            "y": {"field": "y", "type": "quantitative", "scale": {"domain": [90.68, 101.07], "nice": false, "zero": false}, "axis": null},
            "text": {"field": "t"}
          }
        },
        {
          "data": {"name": "letA"},
          "mark": {"type": "text", "fontSize": 27, "align": "left", "baseline": "alphabetic", "color": "#111111"},
          "encoding": {
            "x": {"field": "x", "type": "quantitative", "scale": {"domain": [-20, 20], "nice": false, "zero": false}, "axis": null},
            "y": {"field": "y", "type": "quantitative", "scale": {"domain": [90.68, 101.07], "nice": false, "zero": false}, "axis": null},
            "text": {"field": "t"}
          }
        }
      ]
    },
    {
      "width": 260,
      "height": 445,
      "resolve": {"axis": {"x": "independent", "y": "independent"}},
      "layer": [
        {
          "data": {"name": "compB"},
          "mark": {"type": "line", "color": "#dddddd", "strokeWidth": 1.5, "interpolate": "monotone"},
          "encoding": {
            "x": {"field": "x", "type": "quantitative", "scale": {"domain": [-5, 4.74], "nice": false, "zero": false},
                  "axis": {"orient": "bottom", "values": [-5, -4, -3, -2, -1, 0, 1, 2, 3, 4], "tickSize": -4.5, "labels": false, "domain": false, "title": null}},
            "y": {"field": "y", "type": "quantitative", "scale": {"domain": [90.68, 101.07], "nice": false, "zero": false},
                  "axis": {"orient": "left", "values": [91, 91.5, 92, 92.5, 93, 93.5, 94, 94.5, 95, 95.5, 96, 96.5, 97, 97.5, 98, 98.5, 99, 99.5, 100, 100.5, 101], "tickSize": -4.5, "labels": false, "domain": false, "title": null}},
            "detail": {"field": "s", "type": "nominal"}
          }
        },
        {
          "data": {"name": "ptsB"},
          "mark": {"type": "circle", "size": 13, "opacity": 1},
          "encoding": {
            "x": {"field": "x", "type": "quantitative", "scale": {"domain": [-5, 4.74], "nice": false, "zero": false},
                  "axis": {"orient": "bottom", "values": [-4, 0, 4], "tickSize": -6.5, "labelPadding": 12, "labelExpr": "'' + datum.value", "labelFlush": false, "title": "Velocity (mm/s)", "titlePadding": 1.5}},
            "y": {"field": "y", "type": "quantitative", "scale": {"domain": [90.68, 101.07], "nice": false, "zero": false},
                  "axis": {"orient": "left", "values": [92, 94, 96, 98, 100], "tickSize": -6.5, "labelPadding": 18, "title": null}},
            "color": {"field": "s", "type": "nominal", "scale": {"domain": ["Eu11", "Eu10Sr", "Eu9Sr2"], "range": ["#b014d2", "#049e73", "#14aee8"]}, "legend": null}
          }
        },
        {
          "data": {"name": "fitB"},
          "mark": {"type": "line", "color": "#111111", "strokeWidth": 1.5, "interpolate": "monotone"},
          "encoding": {
            "x": {"field": "x", "type": "quantitative", "scale": {"domain": [-5, 4.74], "nice": false, "zero": false},
                  "axis": {"orient": "top", "values": [-5, -4, -3, -2, -1, 0, 1, 2, 3, 4], "tickSize": -4.5, "labels": false, "title": null}},
            "y": {"field": "y", "type": "quantitative", "scale": {"domain": [90.68, 101.07], "nice": false, "zero": false}, "axis": null},
            "detail": {"field": "s", "type": "nominal"}
          }
        },
        {
          "data": {"name": "mainB"},
          "mark": {"type": "text", "fontSize": 18, "align": "left", "baseline": "alphabetic", "color": "#1a1a1a"},
          "encoding": {
            "x": {"field": "x", "type": "quantitative", "scale": {"domain": [-5, 4.74], "nice": false, "zero": false},
                  "axis": {"orient": "top", "values": [-4, 0, 4], "tickSize": -6.5, "labels": false, "domain": false, "title": null}},
            "y": {"field": "y", "type": "quantitative", "scale": {"domain": [90.68, 101.07], "nice": false, "zero": false}, "axis": null},
            "text": {"field": "t"}
          }
        },
        {
          "data": {"name": "subB"},
          "mark": {"type": "text", "fontSize": 13, "align": "left", "baseline": "alphabetic", "color": "#1a1a1a"},
          "encoding": {
            "x": {"field": "x", "type": "quantitative", "scale": {"domain": [-5, 4.74], "nice": false, "zero": false}, "axis": null},
            "y": {"field": "y", "type": "quantitative", "scale": {"domain": [90.68, 101.07], "nice": false, "zero": false}, "axis": null},
            "text": {"field": "t"}
          }
        },
        {
          "data": {"name": "supB"},
          "mark": {"type": "text", "fontSize": 16, "align": "left", "baseline": "alphabetic", "color": "#1a1a1a"},
          "encoding": {
            "x": {"field": "x", "type": "quantitative", "scale": {"domain": [-5, 4.74], "nice": false, "zero": false}, "axis": null},
            "y": {"field": "y", "type": "quantitative", "scale": {"domain": [90.68, 101.07], "nice": false, "zero": false}, "axis": null},
            "text": {"field": "t"}
          }
        },
        {
          "data": {"name": "isoB"},
          "mark": {"type": "text", "fontSize": 22, "align": "left", "baseline": "alphabetic", "color": "#1a1a1a"},
          "encoding": {
            "x": {"field": "x", "type": "quantitative", "scale": {"domain": [-5, 4.74], "nice": false, "zero": false}, "axis": null},
            "y": {"field": "y", "type": "quantitative", "scale": {"domain": [90.68, 101.07], "nice": false, "zero": false}, "axis": null},
            "text": {"field": "t"}
          }
        },
        {
          "data": {"name": "letB"},
          "mark": {"type": "text", "fontSize": 27, "align": "left", "baseline": "alphabetic", "color": "#111111"},
          "encoding": {
            "x": {"field": "x", "type": "quantitative", "scale": {"domain": [-5, 4.74], "nice": false, "zero": false}, "axis": null},
            "y": {"field": "y", "type": "quantitative", "scale": {"domain": [90.68, 101.07], "nice": false, "zero": false}, "axis": null},
            "text": {"field": "t"}
          }
        }
      ]
    }
  ]
}
